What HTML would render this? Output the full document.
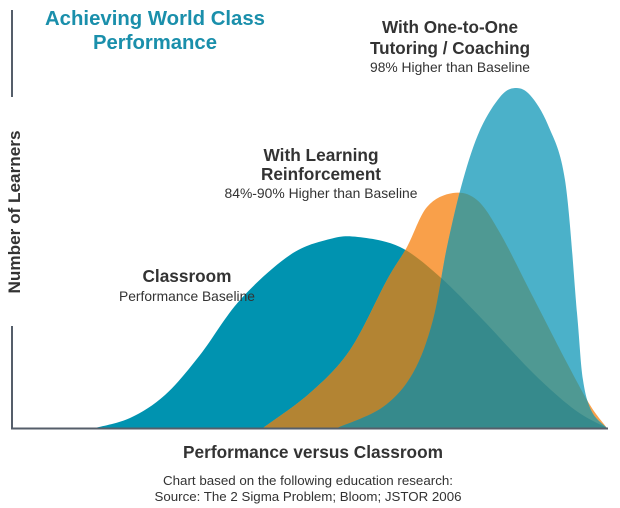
<!DOCTYPE html>
<html><head><meta charset="utf-8"><style>
html,body{margin:0;padding:0;background:#fff;width:620px;height:508px;overflow:hidden}
svg{display:block;font-family:"Liberation Sans",Arial,sans-serif}
</style></head><body>
<svg id="s" width="620" height="508" viewBox="0 0 620 508" xmlns="http://www.w3.org/2000/svg">
<defs>
<clipPath id="cC"><path id="pC2"/></clipPath>
<clipPath id="cO"><path id="pO2"/></clipPath>
<clipPath id="cOC" clip-path="url(#cC)"><path id="pO3"/></clipPath>
</defs>
<path id="C" fill="#0093b0"/>
<path id="O" fill="#f9a04a"/>
<path id="B" fill="#4bb1c9"/>
<path id="OC" fill="#b38433" clip-path="url(#cC)"/>
<path id="BO" fill="#4f9993" clip-path="url(#cO)"/>
<path id="BOC" fill="#368a8c" clip-path="url(#cOC)"/>
<line x1="12" y1="10" x2="12" y2="97" stroke="#555e6a" stroke-width="2"/>
<line x1="12" y1="326" x2="12" y2="429" stroke="#555e6a" stroke-width="2"/>
<line x1="11" y1="428.5" x2="608" y2="428.5" stroke="#555e6a" stroke-width="2"/>
<g fill="#1a8fab" font-weight="bold" font-size="20" text-anchor="middle">
<text x="155" y="25" textLength="220" lengthAdjust="spacingAndGlyphs">Achieving World Class</text>
<text x="155" y="49" textLength="124" lengthAdjust="spacingAndGlyphs">Performance</text>
</g>
<g fill="#333" text-anchor="middle">
<text x="450" y="33" font-size="17.2" font-weight="bold" textLength="136" lengthAdjust="spacingAndGlyphs">With One-to-One</text>
<text x="450" y="54" font-size="17.2" font-weight="bold" textLength="160" lengthAdjust="spacingAndGlyphs">Tutoring / Coaching</text>
<text x="450" y="72" font-size="13.8" textLength="160" lengthAdjust="spacingAndGlyphs">98% Higher than Baseline</text>
<text x="321" y="161" font-size="17.2" font-weight="bold" textLength="115" lengthAdjust="spacingAndGlyphs">With Learning</text>
<text x="321" y="180" font-size="17.2" font-weight="bold" textLength="120" lengthAdjust="spacingAndGlyphs">Reinforcement</text>
<text x="321" y="198" font-size="13.8" textLength="193" lengthAdjust="spacingAndGlyphs">84%-90% Higher than Baseline</text>
<text x="187" y="282" font-size="17.2" font-weight="bold" textLength="89" lengthAdjust="spacingAndGlyphs">Classroom</text>
<text x="187" y="301" font-size="13.8" textLength="136" lengthAdjust="spacingAndGlyphs">Performance Baseline</text>
<text x="313" y="458" font-size="17.2" font-weight="bold" textLength="260" lengthAdjust="spacingAndGlyphs">Performance versus Classroom</text>
<text x="308" y="485" font-size="13.3" textLength="290" lengthAdjust="spacingAndGlyphs">Chart based on the following education research:</text>
<text x="308" y="501" font-size="13.3" textLength="307" lengthAdjust="spacingAndGlyphs">Source: The 2 Sigma Problem; Bloom; JSTOR 2006</text>
<text transform="translate(20,212) rotate(-90)" font-size="17" font-weight="bold" textLength="163" lengthAdjust="spacingAndGlyphs">Number of Learners</text>
</g>
</svg>
<script>
function cr(p){var d="M"+p[0][0]+","+p[0][1];for(var i=0;i<p.length-1;i++){var a=p[i-1]||p[i],b=p[i],c=p[i+1],e=p[i+2]||c;
d+=" C"+(b[0]+(c[0]-a[0])/6)+","+(b[1]+(c[1]-a[1])/6)+" "+(c[0]-(e[0]-b[0])/6)+","+(c[1]-(e[1]-b[1])/6)+" "+c[0]+","+c[1];}return d+" L"+p[0][0]+","+p[0][1]+"Z";}
var C=[[95,428],[130,418],[165,395],[200,355],[240,300],[290,255],[330,239],[358,237],[400,247],[440,277],[483,320],[533,373],[575,410],[607,428]];
var O=[[263,428],[310,393],[350,350],[387,280],[407,247],[427,207],[453,193],[477,200],[500,233],[533,297],[567,363],[590,405],[607,428]];
var B=[[337,428],[383,407],[413,373],[433,320],[447,247],[463,180],[480,130],[500,97],[515,88],[530,95],[548,125],[565,180],[577,313],[583,380],[592,412],[607,428]];
var dc=cr(C),d0=cr(O),db=cr(B);
function s(id,d){document.getElementById(id).setAttribute("d",d);}
s("C",dc);s("pC2",dc);s("O",d0);s("pO2",d0);s("pO3",d0);s("B",db);s("OC",d0);s("BO",db);s("BOC",db);
</script>
</body></html>
